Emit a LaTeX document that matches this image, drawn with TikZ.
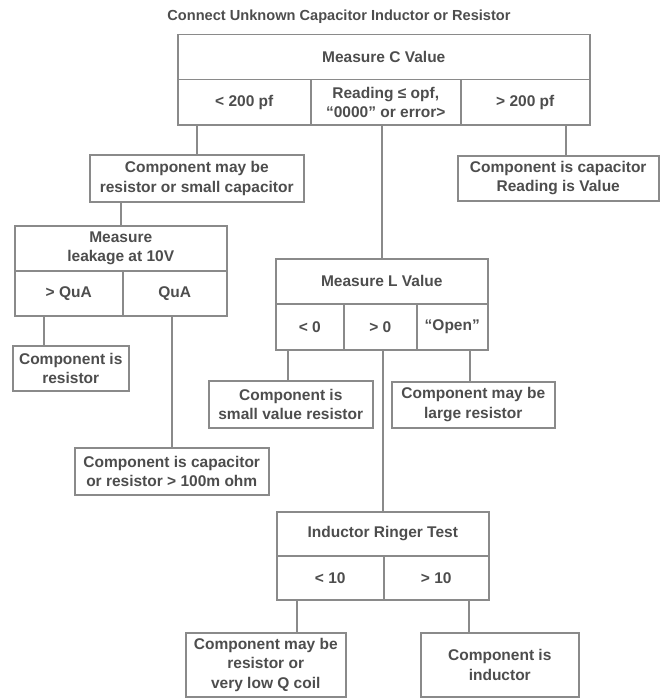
\documentclass[tikz,border=0pt]{standalone}
\usepackage{fontspec}
\setmainfont{Liberation Sans}
\definecolor{ln}{HTML}{8A8A8A}
\definecolor{tx}{HTML}{4D4D4D}
\tikzset{
  box/.style={draw=ln, line width=1.5pt, text=tx, font=\bfseries\fontsize{15.5}{19.5}\selectfont,
    align=center, inner sep=0pt, anchor=north west},
  wire/.style={draw=ln, line width=1.5pt},
  titletext/.style={text=tx, font=\bfseries\fontsize{14.6}{18}\selectfont, inner sep=0pt}
}
\begin{document}
\begin{tikzpicture}[x=1pt,y=-1pt]
\useasboundingbox (0,0) rectangle (668,698);
\node[titletext] (title) at (339,17) {Connect Unknown Capacitor Inductor or Resistor};
% Measure C
\node[box, minimum width=412pt, minimum height=45pt] (C) at (177,34) {Measure C Value};
\node[box, minimum width=133pt, minimum height=45pt] (c1) at (177,79) {< 200 pf};
\node[box, minimum width=150pt, minimum height=45pt] (c2) at (310,79) {Reading ≤ opf,\\“0000” or error>};
\node[box, minimum width=129pt, minimum height=45pt] (c3) at (460,79) {> 200 pf};
% second level
\node[box, minimum width=214pt, minimum height=47pt] (A) at (89,154) {Component may be\\resistor or small capacitor};
\node[box, minimum width=201pt, minimum height=45pt] (R) at (457,155) {Component is capacitor\\Reading is Value};
% leakage
\node[box, minimum width=212pt, minimum height=45pt] (K) at (14,225) {Measure\\leakage at 10V};
\node[box, minimum width=108pt, minimum height=45pt] (k1) at (14,270) {> QuA};
\node[box, minimum width=104pt, minimum height=45pt] (k2) at (122,270) {QuA};
\node[box, minimum width=116pt, minimum height=45pt] (KR) at (12,345) {Component is\\resistor};
\node[box, minimum width=194pt, minimum height=47pt] (Cap) at (74,447) {Component is capacitor\\or resistor > 100m ohm};
% Measure L
\node[box, minimum width=212pt, minimum height=45pt] (L) at (275,258) {Measure L Value};
\node[box, minimum width=68pt, minimum height=46pt] (l1) at (275,303) {< 0};
\node[box, minimum width=73pt, minimum height=46pt] (l2) at (343,303) {> 0};
\node[box, minimum width=71pt, minimum height=46pt] (l3) at (416,303) {“Open”};
\node[box, minimum width=164pt, minimum height=47pt] (SR) at (208,380) {Component is\\small value resistor};
\node[box, minimum width=163pt, minimum height=46pt] (LR) at (391,381) {Component may be\\large resistor};
% Ringer
\node[box, minimum width=212pt, minimum height=44pt] (T) at (276,511) {Inductor Ringer Test};
\node[box, minimum width=107pt, minimum height=44pt] (t1) at (276,555) {< 10};
\node[box, minimum width=105pt, minimum height=44pt] (t2) at (383,555) {> 10};
\node[box, minimum width=160pt, minimum height=64pt] (BL) at (185,632) {Component may be\\resistor or\\very low Q coil};
\node[box, minimum width=158pt, minimum height=64pt] (IN) at (420,632) {Component is\\inductor};
% connectors
\coordinate (rtop) at ([xshift=7.5pt]R.north);
\coordinate (krtop) at ([xshift=-27pt]KR.north);
\coordinate (srtop) at ([xshift=-3pt]SR.north);
\coordinate (lrtop) at ([xshift=-3.5pt]LR.north);
\coordinate (bltop) at ([xshift=31pt]BL.north);
\coordinate (intop) at ([xshift=-31pt]IN.north);
\draw[wire] (A.north) -- (A.north |- c1.south);
\draw[wire] (L.north) -- (L.north |- c2.south);
\draw[wire] (rtop) -- (rtop |- c3.south);
\draw[wire] (K.north) -- (K.north |- A.south);
\draw[wire] (krtop) -- (krtop |- k1.south);
\draw[wire] (Cap.north) -- (Cap.north |- k2.south);
\draw[wire] (srtop) -- (srtop |- l1.south);
\draw[wire] (T.north) -- (T.north |- l2.south);
\draw[wire] (lrtop) -- (lrtop |- l3.south);
\draw[wire] (bltop) -- (bltop |- t1.south);
\draw[wire] (intop) -- (intop |- t2.south);
\end{tikzpicture}
\end{document}
